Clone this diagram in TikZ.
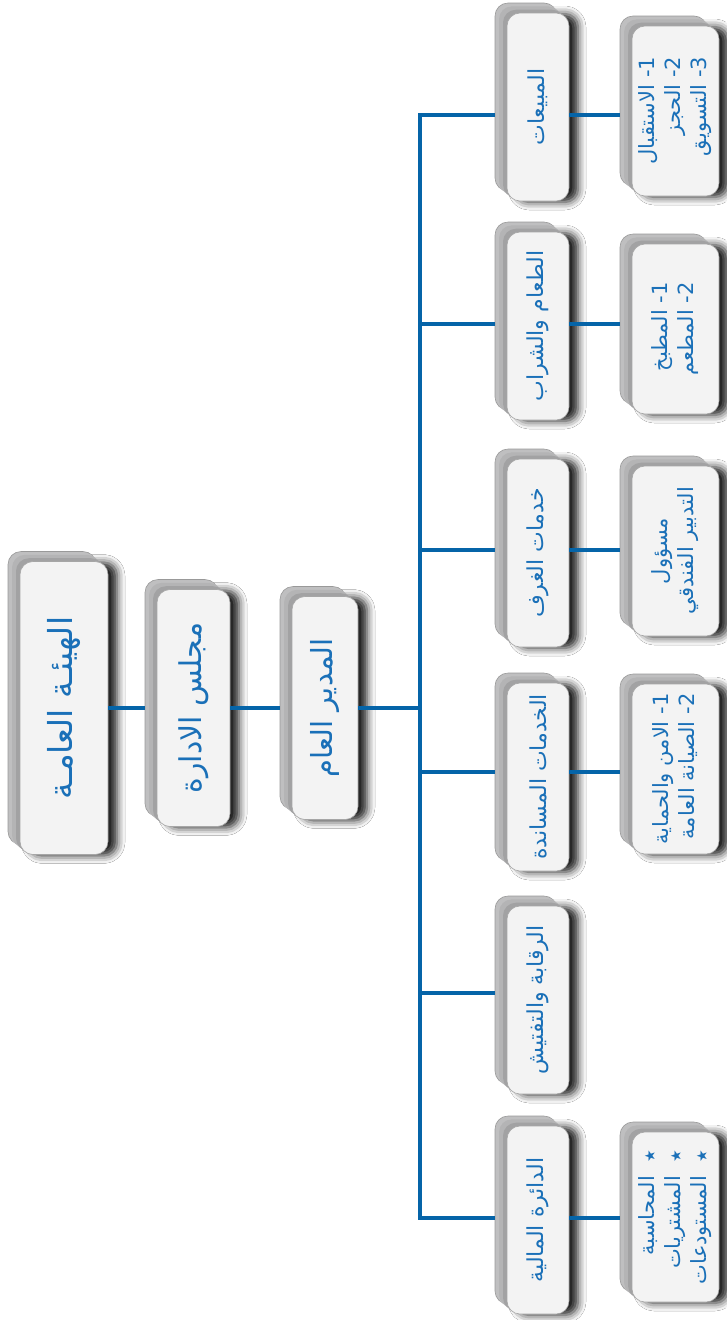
\documentclass[tikz,border=0pt]{standalone}
\usepackage{fontspec}
\usetikzlibrary{shadows,shadows.blur}
\newfontfamily\arabicfont[Script=Arabic]{DejaVu Sans}
\TeXXeTstate=1
\definecolor{lineblue}{HTML}{0564A8}
\definecolor{textblue}{HTML}{1A70B8}
\definecolor{facefill}{HTML}{F3F3F3}
\definecolor{bevelgray}{HTML}{B4B4B5}
\newcommand{\ar}[1]{\beginR #1\endR}
\begin{document}
\begin{tikzpicture}[x=1pt,y=-1pt,
  card/.style={rotate=90, rounded corners=13pt, fill=facefill, draw=gray!70, line width=0.6pt,
    text=textblue, inner sep=0pt,
    blur shadow={shadow xshift=9pt, shadow yshift=-1pt, shadow blur radius=8pt, shadow opacity=90},
    general shadow={fill=bevelgray!85, draw=gray!80, shadow xshift=-12pt, shadow yshift=10pt},
    general shadow={fill=bevelgray!85, draw=none, shadow xshift=-10pt, shadow yshift=8.3pt},
    general shadow={fill=bevelgray, draw=none, shadow xshift=-8pt, shadow yshift=6.7pt},
    general shadow={fill=bevelgray, draw=none, shadow xshift=-6pt, shadow yshift=5pt},
    general shadow={fill=bevelgray!90!black, draw=none, shadow xshift=-4pt, shadow yshift=3.3pt},
    general shadow={fill=bevelgray!90!black, draw=none, shadow xshift=-2pt, shadow yshift=1.7pt}},
  deptbox/.style={card, minimum width=188pt, minimum height=62pt,
    font=\arabicfont\fontsize{22}{28}\selectfont},
  subbox/.style={card, minimum width=170pt, minimum height=87pt,
    font=\arabicfont\fontsize{21}{26}\selectfont},
  conn/.style={draw=lineblue, line width=3.6pt}]
\useasboundingbox (0,0) rectangle (726,1320);
\fill[white] (0,0) rectangle (726,1320);
% top levels
\node[card, minimum width=293pt, minimum height=88pt, font=\arabicfont\fontsize{33}{40}\selectfont] (r) at (64,708) {\ar{الهيئـة العامـة}};
\node[card, minimum width=237pt, minimum height=73pt, font=\arabicfont\fontsize{30}{36}\selectfont] (m) at (193.5,708) {\ar{مجلس الادارة}};
\node[card, minimum width=223pt, minimum height=66pt, font=\arabicfont\fontsize{29}{34}\selectfont] (u) at (325,708) {\ar{المدير العام}};
% departments
\node[deptbox] (d1) at (538,107) {\ar{المبيعات}};
\node[deptbox] (d2) at (538,326) {\ar{الطعام والشراب}};
\node[deptbox] (d3) at (538,553) {\ar{خدمات الغرف}};
\node[deptbox] (d4) at (538,777) {\ar{الخدمات المساندة}};
\node[deptbox] (d5) at (538,1000) {\ar{الرقابة والتفتيش}};
\node[deptbox] (d6) at (538,1220) {\ar{الدائرة المالية}};
% sub boxes
\node[subbox, align=right] (s1) at (675.5,111) {\ar{1\kern0pt- الاستقبال}\\\ar{2\kern0pt- الحجز}\\\ar{3\kern0pt- التسويق}};
\node[subbox, align=right] (s2) at (675.5,329) {\ar{1\kern0pt- المطبخ}\\\ar{2\kern0pt- المطعم}};
\node[subbox, align=center] (s3) at (675.5,551) {\ar{مسؤول}\\\ar{التدبير الفندقي}};
\node[subbox, align=right] (s4) at (675.5,769) {\ar{1\kern0pt- الامن والحماية}\\\ar{2\kern0pt- الصيانة العامة}};
\node[subbox, align=right] (s6) at (675.5,1217) {\ar{{\fontsize{14}{14}\selectfont ★}\ \ المحاسبة}\\\ar{{\fontsize{14}{14}\selectfont ★}\ \ المشتريات}\\\ar{{\fontsize{14}{14}\selectfont ★}\ \ المستودعات}};
% bus coordinates
\coordinate (b1) at (420,115);
\coordinate (b2) at (420,324);
\coordinate (b3) at (420,550);
\coordinate (b4) at (420,772);
\coordinate (b5) at (420,993);
\coordinate (b6) at (420,1218);
\coordinate (bm) at (420,708);
% connectors
\draw[conn] (r.south) -- ([xshift=-12pt]m.north);
\draw[conn] (m.south) -- ([xshift=-12pt]u.north);
\draw[conn] (u.south |- bm) -- (bm);
\draw[conn] ([xshift=-12pt]d1.north |- b1) -- (b1) -- (b6) -- ([xshift=-12pt]d6.north |- b6);
\draw[conn] (b2) -- ([xshift=-12pt]d2.north |- b2);
\draw[conn] (b3) -- ([xshift=-12pt]d3.north |- b3);
\draw[conn] (b4) -- ([xshift=-12pt]d4.north |- b4);
\draw[conn] (b5) -- ([xshift=-12pt]d5.north |- b5);
\draw[conn] (d1.south |- b1) -- ([xshift=-12pt]s1.north |- b1);
\draw[conn] (d2.south |- b2) -- ([xshift=-12pt]s2.north |- b2);
\draw[conn] (d3.south |- b3) -- ([xshift=-12pt]s3.north |- b3);
\draw[conn] (d4.south |- b4) -- ([xshift=-12pt]s4.north |- b4);
\draw[conn] (d6.south |- b6) -- ([xshift=-12pt]s6.north |- b6);
\end{tikzpicture}
\end{document}
